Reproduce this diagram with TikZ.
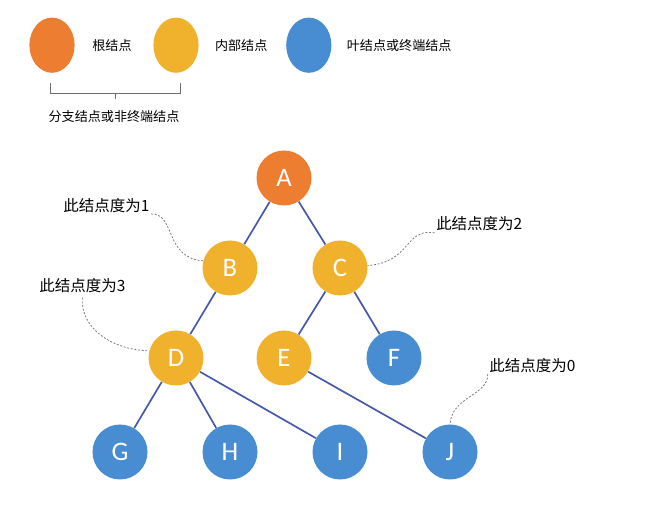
\documentclass[tikz,border=0pt]{standalone}
\usepackage{fontspec}
\setmainfont{Carlito}
\newfontfamily\cjk{Noto Sans CJK SC}
\usepackage{tikz}
\usetikzlibrary{shapes,positioning}
\definecolor{rootorange}{RGB}{237,125,49}
\definecolor{innergold}{RGB}{240,178,44}
\definecolor{leafblue}{RGB}{72,141,210}
\definecolor{linkblue}{RGB}{70,88,168}
\definecolor{notegray}{RGB}{110,110,110}

\begin{document}
\begin{tikzpicture}[
  treenode/.style={circle, minimum size=1.375cm, inner sep=0pt, text=white,
                   font=\fontsize{19}{19}\selectfont},
  rootnode/.style={treenode, fill=rootorange},
  innernode/.style={treenode, fill=innergold},
  leafnode/.style={treenode, fill=leafblue},
  keydot/.style={ellipse, minimum width=1.13cm, minimum height=1.38cm, inner sep=0pt},
  keytext/.style={font=\cjk\fontsize{9.3}{11}\selectfont},
  notetext/.style={font=\cjk\fontsize{11}{13}\selectfont, inner sep=1pt},
  treelink/.style={draw=linkblue, line width=1.2pt},
  noteline/.style={draw=notegray, line width=0.5pt, dash pattern=on 1.4pt off 1.2pt}
]
  \useasboundingbox (0,0) rectangle (16.25,-12.8);

  % legend
  \node[keydot, fill=rootorange] (k1) at (1.3,-1.13) {};
  \node[keydot, fill=innergold] (k2) at (4.4,-1.13) {};
  \node[keydot, fill=leafblue] (k3) at (7.72,-1.13) {};
  \node[keytext] (t1) at (2.8,-1.15) {根结点};
  \node[keytext] (t2) at (6.03,-1.15) {内部结点};
  \node[keytext] (t3) at (9.98,-1.15) {叶结点或终端结点};
  \draw[notegray, line width=0.6pt] (1.25,-2.075) -- (1.25,-2.325) -- (4.5,-2.325) -- (4.5,-2.075)
    (2.875,-2.325) -- (2.875,-2.475);
  \node[keytext] (t4) at (2.85,-2.925) {分支结点或非终端结点};

  % tree
  \node[rootnode] (a) at (7.1,-4.45) {A};
  \node[innernode] (b) at (5.75,-6.7) {B};
  \node[innernode] (c) at (8.5,-6.7) {C};
  \node[innernode] (d) at (4.4,-8.95) {D};
  \node[innernode] (e) at (7.1,-8.95) {E};
  \node[leafnode] (f) at (9.85,-8.95) {F};
  \node[leafnode] (g) at (3,-11.3) {G};
  \node[leafnode] (h) at (5.75,-11.3) {H};
  \node[leafnode] (i) at (8.5,-11.3) {I};
  \node[leafnode] (j) at (11.25,-11.3) {J};

  \draw[treelink] (a) -- (b);
  \draw[treelink] (a) -- (c);
  \draw[treelink] (b) -- (d);
  \draw[treelink] (c) -- (e);
  \draw[treelink] (c) -- (f);
  \draw[treelink] (d) -- (g);
  \draw[treelink] (d) -- (h);
  \draw[treelink] (d) -- (i);
  \draw[treelink] (e) -- (j);

  % degree notes
  \node[notetext] (n1) at (2.66,-5.13) {此结点度为1};
  \node[notetext] (n3) at (2.06,-7.15) {此结点度为3};
  \node[notetext] (n2) at (11.98,-5.6) {此结点度为2};
  \node[notetext] (n0) at (13.31,-9.13) {此结点度为0};

  \draw[noteline] (n1.south east) .. controls (4.4,-5.33) and (4.1,-6.45) .. (b.165);
  \draw[noteline] ([yshift=-2pt]n3.south) .. controls (2.0,-8.2) and (2.8,-8.75) .. (d.165);
  \draw[noteline] (n2.south west) .. controls (10.1,-5.7) and (10.3,-6.55) .. (c.5);
  \draw[noteline] (n0.south west) .. controls (12.2,-9.9) and (11.3,-9.9) .. (j.north);
\end{tikzpicture}
\end{document}
